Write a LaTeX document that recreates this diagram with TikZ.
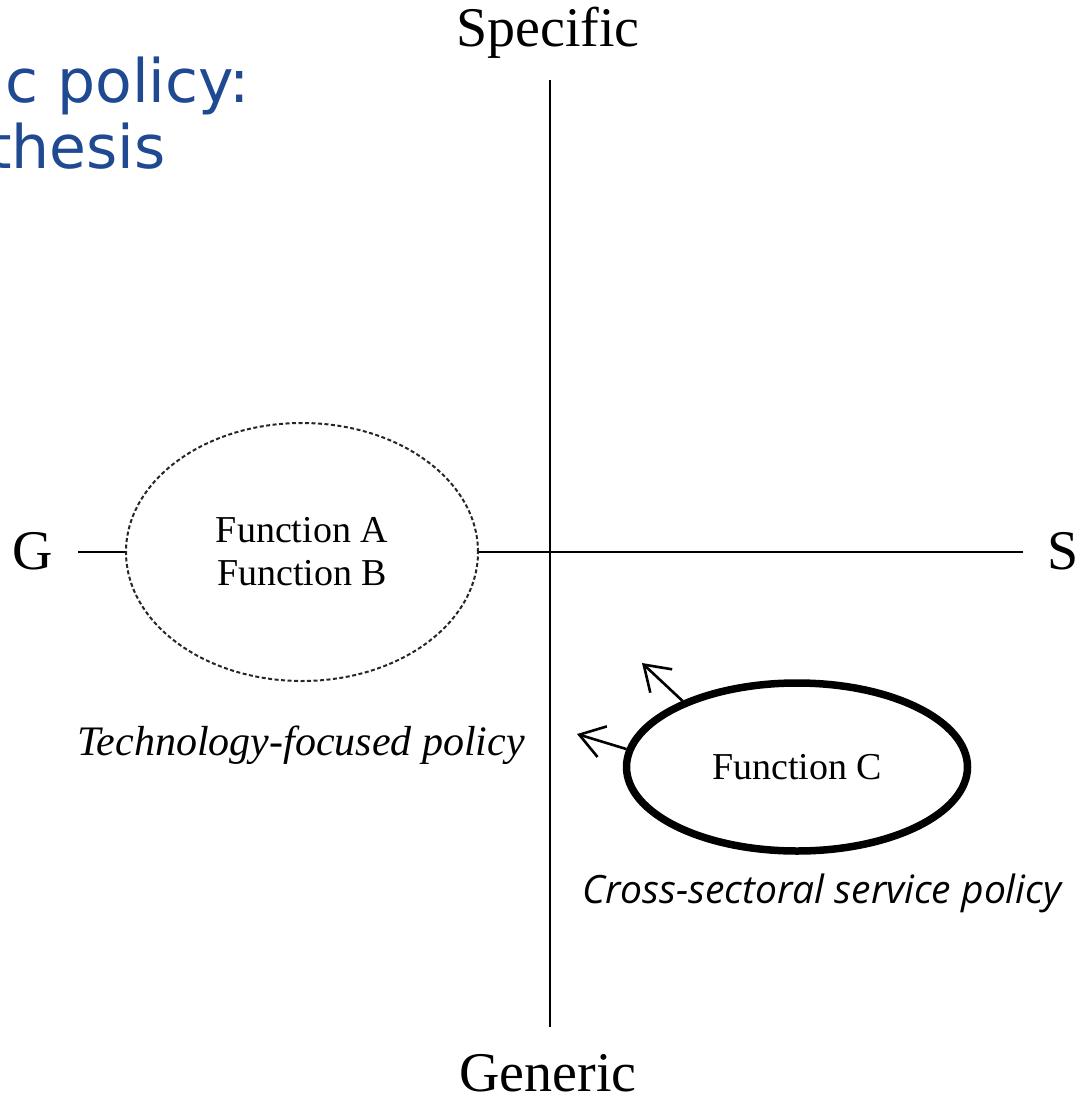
\documentclass[tikz,border=0pt]{standalone}
\usepackage{fontspec}
\setmainfont{Liberation Serif}
\newfontfamily\titlefont{DejaVu Sans}
\newfontfamily\labsans{Open Sans}
\usetikzlibrary{shapes.geometric,arrows.meta}
\definecolor{titleblue}{RGB}{31,73,145}
\begin{document}
\begin{tikzpicture}[x=1pt,y=-1pt,
  axis/.style={line width=2.7pt,black},
  bigserif/.style={font=\fontsize{56}{60}\selectfont,inner sep=0pt,anchor=base},
  functext/.style={font=\fontsize{38}{43}\selectfont,align=center},
  titletext/.style={font=\titlefont\fontsize{60}{66}\selectfont,text=titleblue,inner sep=0pt},
  growarrow/.style={line width=2.6pt,-{Straight Barb[length=24pt,width=32pt,line width=2.6pt]}}
]
\useasboundingbox (0,0) rectangle (1080,1102);
\clip (0,0) rectangle (1080,1102);

% title fragments
\node[titletext,anchor=base east] (t1) at (250,103) {c policy:};
\node[titletext,anchor=base east] (t2) at (166,168) {thesis};

% axes
\coordinate (top) at (550,80);
\coordinate (bot) at (550,1027);
\coordinate (lft) at (78,552);
\coordinate (rgt) at (1023,552);
\draw[axis] (top) -- (bot);
\draw[axis] (lft) -- (rgt);

% axis labels
\node[bigserif] (spec) at (548,47) {Specific};
\node[bigserif] (gen) at (548,1091) {Generic};
\node[bigserif] (G) at (33,569) {G};
\node[bigserif] (S) at (1063,569) {S};

% ellipse A (dashed)
\node[ellipse,draw=black!85,fill=white,line width=2pt,dash pattern=on 4pt off 2.5pt,
      minimum width=352pt,minimum height=258pt,inner sep=0pt,functext] (A) at (302,552)
      {Function A\\Function B};
\node[font=\itshape\fontsize{42}{46}\selectfont,inner sep=0pt,anchor=base] (Alab) at (301,755)
      {Technology-focused policy};

% ellipse C (thick)
\node[ellipse,draw=black,fill=white,line width=7.5pt,
      minimum width=341pt,minimum height=168pt,inner sep=0pt,functext] (C) at (797,767)
      {Function C};
\node[font=\labsans\itshape\fontsize{39}{44}\selectfont,inner sep=0pt,anchor=base] (Clab) at (822,903)
      {Cross-sectoral service policy};

% growth arrows
\coordinate (a1) at (642,663);
\coordinate (a2) at (577,734);
\draw[growarrow] (C.150) -- (a1);
\draw[growarrow] (C.174) -- (a2);
\end{tikzpicture}
\end{document}
